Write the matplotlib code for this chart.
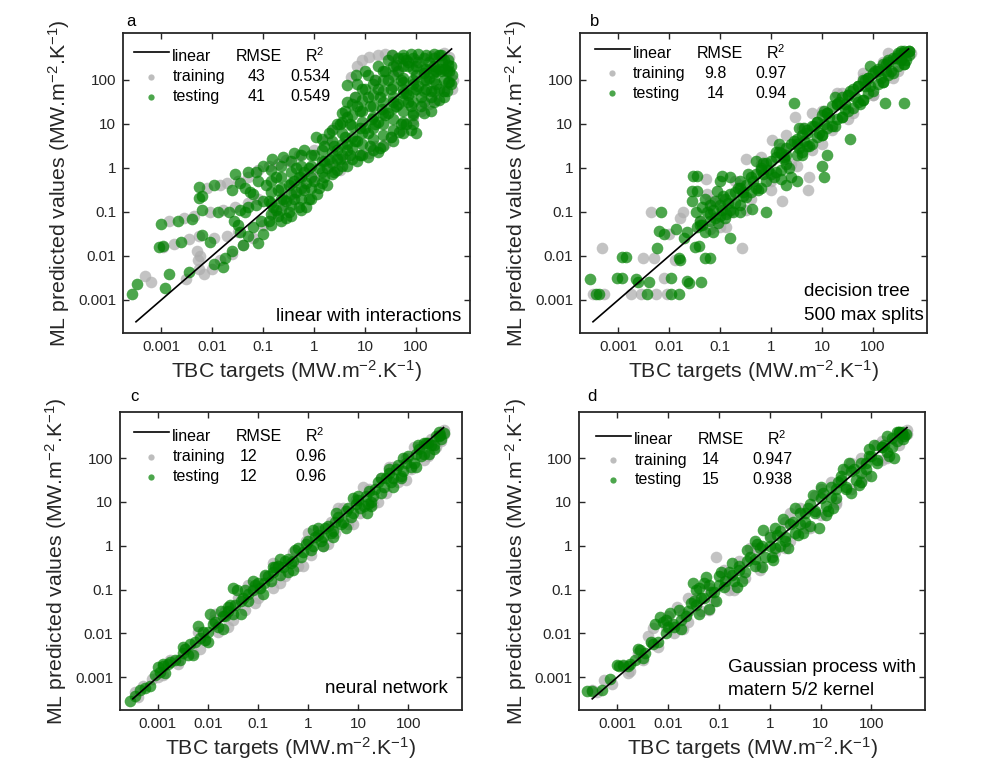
import matplotlib
matplotlib.use("Agg")
import matplotlib.pyplot as plt
from matplotlib.ticker import FixedLocator, FixedFormatter, NullLocator

plt.rcParams.update({
    "font.family": ["Liberation Sans", "DejaVu Sans"],
    "mathtext.fontset": "custom",
    "mathtext.rm": "Liberation Sans",
    "mathtext.it": "Liberation Sans:italic",
    "mathtext.default": "regular",
})

# ---- data: (TBC target, ML prediction) pairs ----
a_train = [
    (5.2, 115), (7.1, 200), (8.9, 280), (12, 330), (18, 370), (25, 380), (34, 360),
    (40, 250), (43, 175), (525, 100), (500, 63), (450, 320), (355, 400),
    (7.9e-3, 0.35), (1.4e-2, 0.4), (2e-2, 0.45), (3.2e-2, 0.5), (5e-2, 0.63),
    (7.9e-2, 0.89), (0.13, 1.1), (0.2, 1.25), (0.32, 1.4),
    (1.4e-3, 6.3e-2), (2.8e-3, 7.1e-2), (4.5e-3, 7.9e-2), (8.9e-3, 0.1),
    (1.6e-2, 0.11), (2.8e-2, 0.13), (5e-2, 0.16), (7.9e-2, 0.2),
    (1.1e-3, 1.6e-2), (1.8e-3, 1.9e-2), (3.5e-3, 2.4e-2), (5.6e-3, 2.8e-2),
    (1.1e-2, 2.5e-2), (2e-2, 2.8e-2), (3.2e-2, 3.5e-2),
    (5e-3, 1.3e-2), (5.2e-3, 7.9e-3), (5.6e-3, 5e-3),
    (4.9e-4, 3.5e-3), (6.3e-4, 2.5e-3), (3e-3, 3e-3), (5.9e-3, 1e-2), (6.9e-3, 3.9e-3),
    (1e-2, 5e-3), (1.4e-2, 7.9e-3), (2.5e-2, 1.1e-2), (4e-2, 1.8e-2), (6.3e-2, 2.5e-2),
    (0.1, 5e-2), (0.16, 8.9e-2), (0.25, 0.14), (0.4, 0.25), (0.63, 0.35), (1.0, 0.63),
    (2.0, 1.1), (4.0, 1.6), (7.9, 2.0), (16, 3.2), (32, 5.0), (63, 10), (126, 20),
    (250, 35), (1.0, 2.5), (0.5, 2.0), (2.5, 7.9), (6.3, 40), (16, 100), (40, 160),
    (100, 280), (200, 350), (12, 2.2), (25, 3.5), (50, 7.1), (89, 12), (178, 28),
    (355, 56), (450, 140), (3.2, 0.9), (0.28, 1.5), (1.8, 4.5),
]
a_test = [
    (2.7e-4, 1.35e-3), (3.4e-4, 2.3e-3), (1.4e-3, 3.9e-3), (1.2e-3, 1.9e-3),
    (3.5e-3, 4.3e-3), (1.1e-2, 6.6e-3), (1.6e-2, 5.6e-3), (1.8e-2, 8.9e-3), (2.5e-2, 1.3e-2),
    (5.5e-3, 0.36), (1.1e-2, 0.4), (6.3e-3, 0.23), (5.6e-3, 0.21), (2.8e-2, 0.71),
    (3.5e-2, 0.45), (5e-2, 0.79), (7.1e-2, 0.79), (4.5e-2, 0.35), (5.6e-2, 0.28),
    (2.5e-2, 0.32), (0.1, 1.1), (0.15, 1.6), (0.25, 1.8), (7.9e-2, 0.5),
    (9.8e-4, 5.2e-2), (2.1e-3, 6.3e-2), (4.1e-3, 6.8e-2), (6.3e-3, 0.11), (1.3e-2, 0.1),
    (2.1e-2, 0.1), (3.6e-2, 0.11), (5e-2, 0.13), (7.1e-2, 0.14), (0.1, 0.18),
    (8.9e-4, 1.6e-2), (1.1e-3, 1.7e-2), (2.5e-3, 2.1e-2), (6.3e-3, 3e-2), (8.9e-3, 2.1e-2),
    (2.7e-2, 6.3e-2), (3.5e-2, 3.5e-2), (5e-2, 2.8e-2), (6.3e-2, 4.5e-2), (7.9e-2, 2e-2),
    (0.1, 3.2e-2), (4e-2, 1.8e-2),
    (0.13, 6.3e-2), (0.16, 0.13), (0.2, 7.9e-2), (0.25, 0.2), (0.32, 0.1), (0.32, 0.4),
    (0.4, 0.2), (0.5, 0.63), (0.5, 0.13), (0.63, 0.32), (0.79, 1.0), (0.79, 0.2),
    (1.0, 0.5), (1.0, 2.0), (1.25, 1.0), (1.25, 0.35), (1.6, 3.2), (1.6, 0.63),
    (2.0, 1.6), (2.0, 6.3), (2.5, 0.79), (2.5, 3.2), (3.2, 10), (3.2, 1.6), (4.0, 5.0),
    (4.0, 20), (5.0, 2.0), (5.0, 10), (6.3, 40), (6.3, 4.0), (7.9, 20), (7.9, 2.0),
    (10, 7.9), (10, 63), (12.6, 3.2), (12.6, 25), (16, 100), (16, 10), (20, 2.8),
    (20, 40), (25, 160), (25, 16), (32, 5.0), (32, 63), (40, 220), (40, 25), (50, 10),
    (50, 100), (63, 280), (63, 50), (79, 7.1), (79, 25), (100, 126), (126, 40),
    (160, 100), (200, 56), (220, 140), (280, 63), (320, 250), (400, 160),
    (0.4, 2.2), (0.63, 2.5), (1.1, 5.0),
    (0.13, 0.18), (0.2, 0.32), (0.4, 0.5), (0.63, 0.79), (1.6, 1.4), (2.8, 2.5),
    (4.5, 3.5), (7.9, 7.9), (14, 12.6), (22, 22), (35, 32), (56, 50), (89, 79),
    (141, 141), (250, 160),
    (4.5, 76), (6.6, 126), (10, 160), (34, 360), (56, 355), (79, 380), (112, 380),
    (160, 355), (224, 380), (316, 355), (417, 280), (479, 200), (500, 126), (479, 79),
    (400, 56), (316, 160), (224, 200), (160, 178), (100, 200), (71, 200), (250, 79),
    (160, 63), (355, 100), (56, 89), (100, 63), (200, 40), (126, 25), (89, 16),
    (63, 10), (47, 6.5), (71, 32), (280, 35),
    # dense body of the cloud
    (0.141, 0.05), (0.141, 0.089), (0.141, 0.158), (0.141, 0.28), (0.141, 0.5), (0.141, 0.89),
    (0.224, 0.063), (0.224, 0.112), (0.224, 0.2), (0.224, 0.355), (0.224, 0.63), (0.224, 1.12),
    (0.355, 0.079), (0.355, 0.141), (0.355, 0.25), (0.355, 0.45), (0.355, 0.79), (0.355, 1.41),
    (0.56, 0.112), (0.56, 0.2), (0.56, 0.355), (0.56, 0.63), (0.56, 1.12), (0.56, 2.0),
    (0.89, 0.2), (0.89, 0.355), (0.89, 0.63), (0.89, 1.12), (0.89, 2.0),
    (1.41, 0.45), (1.41, 0.79), (1.41, 1.41), (1.41, 2.5), (1.41, 4.5),
    (2.24, 0.71), (2.24, 1.26), (2.24, 2.24), (2.24, 4.0), (2.24, 7.1),
    (3.55, 1.12), (3.55, 2.0), (3.55, 3.55), (3.55, 6.3), (3.55, 11.2), (3.55, 17.8),
    (5.6, 1.58), (5.6, 2.8), (5.6, 5.0), (5.6, 8.9), (5.6, 15.8), (5.6, 28),
    (8.9, 2.0), (8.9, 3.55), (8.9, 6.3), (8.9, 11.2), (8.9, 20), (8.9, 35.5), (8.9, 63),
    (14.1, 2.5), (14.1, 4.5), (14.1, 7.9), (14.1, 14.1), (14.1, 25), (14.1, 45), (14.1, 79),
    (22.4, 3.2), (22.4, 5.6), (22.4, 10), (22.4, 17.8), (22.4, 32), (22.4, 56), (22.4, 100),
    (22.4, 158), (35.5, 4.0), (35.5, 7.1), (35.5, 12.6), (35.5, 22.4), (35.5, 40),
    (35.5, 71), (35.5, 126), (35.5, 200), (56, 6.3), (56, 11.2), (56, 20), (56, 35.5),
    (56, 63), (56, 112), (56, 200), (56, 316), (89, 10), (89, 17.8), (89, 32), (89, 56),
    (89, 100), (89, 178), (89, 316), (141, 17.8), (141, 32), (141, 56), (141, 100),
    (141, 178), (141, 316), (224, 32), (224, 56), (224, 100), (224, 178), (224, 316),
    (355, 56), (355, 178), (355, 282), (420, 90), (420, 220),
    (3.2e-2, 5e-2), (4.5e-2, 0.1), (6.3e-2, 0.25), (8.9e-2, 6.3e-2), (0.112, 0.4),
    (0.178, 0.63), (0.28, 0.071), (0.45, 1.0), (0.71, 0.126), (1.12, 0.25), (1.78, 0.4),
    (2.8, 0.89), (4.5, 1.12), (7.1, 1.41), (11.2, 1.78), (17.8, 2.24), (2.8, 10),
    (4.5, 32), (7.1, 79), (11.2, 126), (17.8, 200), (28, 282), (45, 316), (282, 355),
    (447, 158), (447, 89), (100, 6.3), (200, 20), (355, 40),
    (1.78, 1.0), (2.8, 1.58), (4.5, 2.5), (7.1, 4.0), (11.2, 6.3), (17.8, 11.2),
    (28, 17.8), (45, 28), (71, 45), (112, 71), (178, 112), (282, 178), (0.71, 0.45),
    (0.45, 0.28), (0.28, 0.178), (0.178, 0.112), (4.5, 14.1), (7.1, 25), (11.2, 40),
    (17.8, 63), (28, 100), (45, 158), (71, 250), (112, 250), (178, 250),
]

b_train = [
    (4.9e-4, 1.55e-2), (3.2e-4, 1.4e-3), (5.2e-4, 1.4e-3), (4.4e-3, 9.8e-2),
    (3e-3, 9.1e-3), (5e-3, 9.1e-3), (1.8e-3, 1.4e-3), (2.8e-3, 1.4e-3), (5.6e-3, 1.4e-3),
    (8.9e-3, 1.4e-3), (1.9e-2, 9.8e-2), (1.6e-2, 7.1e-2), (5.4e-2, 0.55), (5.6e-2, 0.25),
    (0.27, 1.55e-2), (1.65, 0.18), (3.0, 14), (5.5, 0.62), (5.2, 0.31), (0.32, 1.6),
    (1.05, 4.3), (1e-2, 3.2e-2), (1.3e-2, 7.9e-3), (7.9e-3, 3.2e-3), (0.13, 4.5e-2),
    (4e-2, 6.3e-2), (6.3e-2, 4e-2), (0.1, 0.2), (0.16, 0.1), (0.25, 0.4), (0.4, 0.2),
    (0.63, 1.25), (1.0, 0.5), (1.6, 2.8), (2.5, 1.25), (4.0, 7.9), (6.3, 2.5),
    (10, 20), (16, 7.1), (25, 50), (40, 18), (63, 112), (100, 45), (160, 250),
    (250, 112), (400, 400), (560, 400),
    (0.1, 4.5e-2), (0.32, 0.112), (1, 0.32), (3.2, 1.12), (10, 3.5), (32, 12.6),
    (100, 45), (316, 158), (6.3e-2, 0.178), (0.2, 0.5), (0.63, 1.78), (2, 5.6),
    (6.3, 17.8), (20, 50), (63, 141), (200, 400),
]
b_test = [
    (2.8e-4, 3e-3), (3.7e-4, 1.4e-3), (4.2e-4, 1.4e-3), (9.5e-4, 3.1e-3), (1.2e-3, 3.1e-3),
    (1.2e-3, 9.5e-3), (1.4e-3, 9.5e-3), (2.2e-3, 3e-3), (2.5e-3, 2.5e-3), (4e-3, 2.5e-3),
    (3.7e-3, 1.4e-3), (1.1e-2, 3.1e-3), (1.1e-2, 1.4e-3), (1.55e-2, 1.4e-3),
    (2.2e-2, 2.7e-3), (2.5e-2, 2.4e-3), (4.2e-2, 2.5e-3), (6.8e-3, 9.8e-2),
    (6.3e-3, 3.7e-2), (5.9e-3, 1.55e-2), (7.9e-3, 3.2e-2), (1.35e-2, 4.1e-2),
    (1.55e-2, 9.1e-3), (2e-2, 2.5e-2), (3e-2, 0.66), (3.6e-2, 0.66), (2.8e-2, 0.3),
    (3.5e-2, 0.3), (2.8e-2, 0.18), (3.3e-2, 9.8e-2), (4e-2, 6.3e-2), (5.1e-2, 9.1e-3),
    (6.3e-2, 9.1e-3), (3.8e-2, 1.7e-2), (8.7e-2, 0.3), (0.11, 0.66), (0.16, 2.6e-2),
    (0.43, 0.115), (0.78, 9.8e-2), (2.8, 29), (174, 30), (400, 30), (36, 4.6),
    (10, 1.1), (11, 0.62), (12.6, 2.0), (3.2, 0.5), (2.0, 0.4), (0.25, 0.1),
    (7.1e-2, 3.5e-2), (0.1, 0.5), (0.16, 0.63), (5e-2, 0.2), (6.3e-2, 0.14),
    (4.5e-2, 0.13),
    (4.5e-2, 5e-2), (5.6e-2, 0.1), (7.9e-2, 7.1e-2), (0.1, 0.14), (0.13, 8.9e-2),
    (0.16, 0.25), (0.2, 0.16), (0.25, 0.35), (0.32, 0.22), (0.4, 0.63), (0.5, 0.35),
    (0.63, 0.89), (0.79, 0.5), (1.0, 1.4), (1.25, 0.79), (1.6, 2.2), (2.0, 1.25),
    (2.5, 3.5), (3.2, 2.0), (4.0, 5.6), (5.0, 3.2), (6.3, 8.9), (7.9, 5.0), (10, 16),
    (12.6, 7.9), (16, 25), (20, 12.6), (25, 40), (32, 20), (40, 63), (50, 32),
    (63, 100), (79, 50), (100, 141), (126, 79), (160, 224), (200, 126), (250, 316),
    (316, 200), (400, 400), (500, 447), (447, 282),
    (6.3e-2, 6.3e-2), (0.11, 0.11), (0.28, 0.28), (0.71, 0.71), (1.8, 1.8), (4.5, 4.0),
    (11, 10), (28, 28), (71, 71), (178, 158),
    (3.5e-2, 4.5e-2), (5e-2, 3.5e-2), (7.1e-2, 0.112), (8.9e-2, 5.6e-2), (0.112, 0.224),
    (0.141, 0.158), (0.178, 0.1), (0.224, 0.355), (0.28, 0.224), (0.355, 0.71),
    (0.45, 0.5), (0.56, 0.32), (0.71, 1.26), (0.89, 0.89), (1.12, 0.63), (1.41, 2.24),
    (1.78, 1.58), (2.24, 1.0), (2.8, 4.0), (3.55, 2.8), (4.5, 8.0), (5.6, 3.2),
    (7.1, 8.9), (8.9, 6.3), (11, 20), (14, 14), (18, 8.9), (22, 32), (28, 22), (35, 56),
    (45, 40), (56, 28), (71, 100), (89, 71), (112, 158), (141, 112), (178, 224),
    (224, 158), (282, 316), (355, 282), (400, 447), (500, 447), (355, 447),
    (3.2e-2, 1.6e-2), (1.6e-2, 7.9e-3), (2.2e-2, 3.5e-2),
    (4e-2, 5e-2), (6.3e-2, 8.9e-2), (0.1, 7.9e-2), (0.126, 0.2), (0.2, 0.28), (0.32, 0.4),
    (0.5, 0.71), (0.79, 1.26), (1.26, 1.78), (2.0, 2.8), (3.2, 4.5), (5.0, 7.1),
    (7.9, 11.2), (12.6, 17.8), (20, 28), (32, 45), (50, 71), (79, 112), (126, 178),
    (200, 282), (316, 400), (0.126, 0.071), (0.25, 0.141), (0.63, 0.355), (1.58, 0.89),
    (4.0, 2.24), (10, 5.6), (25, 14.1), (63, 35.5), (158, 89), (400, 224),
    (0.158, 0.112), (0.25, 0.5), (0.4, 0.28), (0.63, 1.0), (1.0, 0.71), (1.26, 2.24),
    (1.58, 0.56), (2.0, 2.0), (2.5, 0.63), (3.2, 3.55), (4.0, 2.0), (5.0, 6.3),
    (6.3, 3.55), (7.9, 11.2), (10, 5.6), (12.6, 17.8), (15.8, 8.9), (20, 28), (25, 14.1),
    (32, 45), (40, 22.4), (50, 71), (63, 35.5), (79, 112), (100, 56), (126, 158),
    (158, 89), (200, 251), (251, 141), (316, 355), (400, 224), (500, 355), (1.41, 3.55),
    (3.55, 7.9), (17.8, 40), (89, 200), (0.5, 1.41), (0.079, 0.178),
]

c_train = [
    (3.5e-4, 4.5e-4), (5e-4, 6.3e-4), (7.9e-4, 8.9e-4), (1.3e-3, 1.1e-3), (1.8e-3, 2.5e-3),
    (2.5e-3, 2e-3), (3.5e-3, 4.5e-3), (5e-3, 3.5e-3), (6.3e-3, 1.1e-2), (8.9e-3, 7.1e-3),
    (1.3e-2, 2e-2), (1.6e-2, 1.1e-2), (2.2e-2, 3.2e-2), (3.2e-2, 2e-2), (4e-2, 6.3e-2),
    (5.6e-2, 3.5e-2), (7.9e-2, 0.11), (0.1, 6.3e-2), (0.14, 0.2), (0.2, 0.11),
    (0.25, 0.35), (0.35, 0.2), (0.5, 0.71), (0.63, 0.35), (0.89, 1.26), (1.12, 0.63),
    (1.6, 2.2), (2, 1), (2.8, 3.5), (3.5, 2), (5, 7.1), (6.3, 3.2), (8.9, 11), (11, 5.6),
    (16, 20), (20, 8.9), (28, 35), (35, 16), (50, 63), (63, 28), (89, 100), (110, 56),
    (160, 180), (200, 89), (280, 280), (350, 180), (500, 350), (450, 250),
    (4e-4, 3.5e-4), (1e-3, 1e-3), (2.5e-3, 2.5e-3), (7.1e-3, 4.5e-3), (2.5e-2, 1.4e-2),
    (8.9e-2, 5e-2), (0.28, 0.14), (0.79, 0.35), (2.5, 1.1), (7.9, 3.2), (25, 10),
    (89, 32), (250, 112), (500, 450), (1.4e-2, 2.8e-2), (6.3e-2, 0.126), (0.2, 0.4),
    (1, 2), (4, 7.1), (12.6, 22), (40, 63), (126, 178),
]
c_test = [
    (2.8e-4, 2.8e-4), (3.5e-4, 3.8e-4), (1e-3, 1.7e-3), (1.1e-3, 1.3e-3), (1.3e-3, 1.8e-3),
    (1.6e-3, 2e-3), (2.2e-3, 2.5e-3), (3.2e-3, 3.5e-3), (4.5e-3, 5.6e-3), (6.3e-3, 1.5e-2),
    (7.1e-3, 7.9e-3), (1e-2, 1.1e-2), (1.1e-2, 2.8e-2), (1.4e-2, 1.8e-2), (2e-2, 2.5e-2),
    (2.5e-2, 3.2e-2), (3.2e-2, 0.11), (3.8e-2, 0.1), (3.5e-2, 4.5e-2), (5e-2, 6.3e-2),
    (6.3e-2, 7.9e-2), (7.9e-2, 0.1), (0.1, 0.14), (0.13, 0.14), (0.16, 0.2), (0.2, 0.25),
    (0.25, 0.35), (0.32, 0.32), (0.4, 0.5), (0.5, 0.45), (0.63, 0.89), (0.79, 0.71),
    (1, 1.26), (1.26, 1), (1.6, 1.8), (2, 1.6), (2.5, 2.8), (3.2, 2.2), (4, 4.5),
    (5, 3.5), (6.3, 7.1), (7.9, 5.6), (10, 11), (13, 7.9), (15, 5.5), (16, 18), (20, 14),
    (25, 28), (32, 22), (40, 45), (50, 35), (63, 71), (79, 50), (100, 110), (126, 79),
    (160, 160), (200, 126), (250, 220), (320, 200), (400, 320), (450, 280),
    (4.5e-4, 5e-4), (5.6e-4, 5.6e-4), (7.1e-4, 6.3e-4), (8.9e-4, 1.1e-3), (1.4e-3, 1.26e-3),
    (1.8e-3, 2.2e-3), (2.8e-3, 2.5e-3), (3.5e-3, 4.5e-3), (4e-3, 3.2e-3), (5.6e-3, 6.3e-3),
    (7.9e-3, 1.1e-2), (8.9e-3, 7.1e-3), (1.26e-2, 1.6e-2), (1.6e-2, 1.4e-2),
    (1.8e-2, 3.2e-2), (2.2e-2, 2.5e-2), (2.8e-2, 4.5e-2), (3.2e-2, 2.8e-2),
    (4.5e-2, 5.6e-2), (5.6e-2, 0.1), (6.3e-2, 5.6e-2), (8.9e-2, 0.126), (0.11, 0.11),
    (0.14, 0.22), (0.18, 0.16), (0.22, 0.32), (0.28, 0.22), (0.35, 0.45), (0.45, 0.4),
    (0.56, 0.79), (0.71, 0.56), (0.89, 1.12), (1.12, 0.79), (1.4, 1.6), (1.8, 1.26),
    (2.2, 2.5), (2.8, 2.0), (3.5, 3.5), (4.5, 3.2), (5.6, 6.3), (7.1, 4.5), (8.9, 8.9),
    (11, 7.1), (14, 14), (18, 10), (22, 20), (28, 16), (35, 35), (45, 28), (56, 56),
    (71, 40), (89, 79), (112, 63), (141, 126), (178, 112), (224, 224), (282, 200),
    (355, 316), (417, 330), (500, 380),
    (1.26e-3, 2e-3), (3.2e-3, 5e-3), (5e-3, 3.2e-3), (2e-2, 1.26e-2), (4.5e-2, 2.8e-2),
    (7.9e-2, 0.158), (0.126, 0.079), (0.28, 0.5), (0.5, 0.28), (1.26, 2.24), (2.0, 1.0),
    (3.55, 5.6), (5.6, 2.5), (10, 14), (17.8, 8), (28, 35), (50, 22), (79, 100),
    (141, 63), (200, 224), (316, 158), (400, 400),
    (0.2, 0.32), (0.4, 0.25), (1.58, 2.5), (3.2, 1.58), (7.9, 12.6), (15.8, 8.9),
    (40, 56), (71, 35.5), (158, 200), (251, 126), (2.5e-2, 4e-2), (1e-2, 6.3e-3),
]

d_train = [
    (3.2e-4, 5e-4), (5.4e-4, 8.7e-4), (7.9e-4, 7.1e-4), (1.3e-3, 1.8e-3), (1.8e-3, 1.4e-3),
    (2.5e-3, 3.5e-3), (3.2e-3, 2.5e-3), (5e-3, 1.3e-2), (4.5e-3, 6.3e-3), (6.3e-3, 5e-3),
    (8.9e-3, 1.4e-2), (1.5e-2, 4.1e-2), (1.3e-2, 1e-2), (2e-2, 2.8e-2), (2.5e-2, 1.8e-2),
    (3.5e-2, 6.3e-2), (4.5e-2, 3.2e-2), (8.9e-2, 0.56), (6.3e-2, 0.11), (7.9e-2, 5.6e-2),
    (0.13, 0.22), (0.16, 0.1), (0.25, 0.45), (0.32, 0.18), (0.5, 0.89), (0.63, 0.35),
    (1, 1.8), (1.26, 0.71), (2, 3.5), (2.5, 1.26), (4, 7.1), (5, 2.5), (7.9, 14),
    (10, 5), (16, 28), (20, 10), (32, 56), (40, 20), (63, 100), (79, 40), (126, 200),
    (160, 89), (280, 280), (350, 200), (500, 350),
    (4e-4, 4.5e-4), (1.6e-3, 1.26e-3), (4e-3, 8.9e-3), (1e-2, 2.5e-2), (2.5e-2, 6.3e-2),
    (2e-2, 1.26e-2), (6.3e-2, 3.5e-2), (0.2, 0.1), (0.63, 0.28), (2, 0.89), (6.3, 2.5),
    (20, 8.9), (63, 28), (200, 100), (0.126, 0.28), (0.4, 0.89), (2.5, 5.6), (10, 20),
    (40, 79), (158, 251), (500, 450),
]
d_test = [
    (2.5e-4, 4.8e-4), (3.2e-4, 4.8e-4), (9.8e-4, 1.9e-3), (1.3e-3, 1.9e-3), (1.6e-3, 1.8e-3),
    (2.2e-3, 2.5e-3), (2.8e-3, 4.2e-3), (3.5e-3, 3.5e-3), (5e-3, 5.6e-3), (6.9e-3, 2.4e-2),
    (7.9e-3, 1.8e-2), (1.1e-2, 2.9e-2), (8.9e-3, 1e-2), (1.3e-2, 1.4e-2), (1.8e-2, 2e-2),
    (2.5e-2, 3.2e-2), (3.1e-2, 0.14), (4e-2, 0.11), (5.6e-2, 0.19), (3.5e-2, 4.5e-2),
    (5e-2, 6.3e-2), (7.1e-2, 8.9e-2), (0.1, 0.13), (0.13, 0.16), (0.18, 0.22),
    (0.25, 0.28), (0.35, 0.45), (0.5, 0.5), (0.71, 1), (0.74, 2.3), (1, 1), (1.17, 0.47),
    (1.4, 1.8), (2, 1.6), (2.8, 3.5), (4, 3.2), (5.6, 7.1), (7.9, 6.3), (9.5, 2.5),
    (11, 16), (16, 13), (22, 28), (32, 22), (45, 56), (63, 45), (89, 110), (126, 89),
    (180, 200), (250, 180), (350, 400), (420, 280), (470, 360),
    (5e-4, 5e-4), (7.1e-4, 8.9e-4), (1.1e-3, 1.8e-3), (1.8e-3, 2e-3), (2.5e-3, 4.5e-3),
    (3.2e-3, 2.8e-3), (4.5e-3, 6.3e-3), (6.3e-3, 6.3e-3), (5.6e-3, 1.6e-2), (8.9e-3, 2e-2),
    (1.26e-2, 1.6e-2), (1.6e-2, 3.5e-2), (2.2e-2, 2.5e-2), (2.8e-2, 5e-2), (3.5e-2, 0.1),
    (4.5e-2, 6.3e-2), (5e-2, 0.14), (6.3e-2, 0.126), (7.9e-2, 8.9e-2), (0.1, 0.2),
    (0.126, 0.112), (0.16, 0.25), (0.2, 0.16), (0.25, 0.35), (0.32, 0.25), (0.4, 0.56),
    (0.5, 0.35), (0.63, 0.89), (0.79, 0.56), (1, 1.6), (1.26, 0.89), (1.6, 2.2), (2, 1.26),
    (2.5, 3.2), (3.2, 2), (4, 5.6), (5, 3.5), (6.3, 8.9), (7.9, 5.6), (10, 12.6),
    (12.6, 7.9), (16, 22), (20, 12.6), (25, 32), (32, 20), (40, 50), (50, 32), (63, 79),
    (79, 56), (100, 112), (126, 79), (158, 178), (200, 141), (250, 282), (316, 251),
    (400, 400), (447, 316), (316, 400),
    (1e-2, 1.41e-2), (1.78e-2, 1.26e-2), (4e-2, 2.8e-2), (8.9e-2, 5.6e-2), (0.178, 0.4),
    (0.28, 0.158), (0.56, 1.12), (1.12, 0.56), (1.78, 4.0), (3.55, 1.78), (7.1, 14.1),
    (14.1, 6.3), (28, 56), (56, 25), (112, 200), (224, 112), (355, 400), (20, 20),
    (79, 79), (5, 5.6),
    (3.2e-2, 5.6e-2), (6.3e-2, 3.55e-2), (0.112, 0.25), (0.224, 0.112), (0.355, 0.79),
    (0.71, 0.32), (1.26, 2.5), (2.24, 0.89), (3.2, 7.1), (6.3, 2.8), (10, 22.4),
    (17.8, 7.1), (35.5, 79), (40, 15.8), (89, 158), (100, 40), (200, 316), (282, 100),
    (400, 355), (1.58, 1.0), (0.5, 1.26), (4.5, 2.0), (12.6, 5.0), (25, 40), (63, 28),
    (158, 178),
]

panel_tags = ["a", "b", "c", "d"]
model_names = [["linear with interactions"], ["decision tree", "500 max splits"],
               ["neural network"], ["Gaussian process with", "matern 5/2 kernel"]]
rmse_train = ["43", "9.8", "12", "14"]
rmse_test = ["41", "14", "12", "15"]
r2_train = ["0.534", "0.97", "0.96", "0.947"]
r2_test = ["0.549", "0.94", "0.96", "0.938"]
fit_line = [3.2e-4, 500]
tick_vals = [1e-3, 1e-2, 1e-1, 1, 10, 100]
tick_text = ["0.001", "0.01", "0.1", "1", "10", "100"]

GREEN = (0.0, 0.5, 0.0)
GRAY = (0.68, 0.68, 0.68)
AXC = "#262626"
W, H = 997, 767

# axes boxes in pixels: left, top, right, bottom
boxes = [(123, 33, 470, 333), (580, 33, 927, 333),
         (120, 411.7, 461.7, 710), (579.3, 411.7, 925.3, 710)]
# legend layout in axes pixels: x of line start, y of first row
leg_x0 = [11.3, 15, 14.3, 17]
leg_y0 = [23.7, 20.3, 25, 28.3]
rmse_val_dx = [122.7, 120.5, 114.7, 114.5]
r2_val_dx = [175.7, 175.5, 176.2, 176]
# model text: (x px from axes left, alignment, y px above bottom for each line)
name_pos = [(338, "right", [16.5]), (224, "left", [41.3, 18]),
            (328.3, "right", [21.7]), (148.4, "left", [42.7, 19.3])]
tag_pos = [(126, 21.7), (590, 21.7), (130, 396.7), (587, 396.7)]

fig = plt.figure(figsize=(W / 100, H / 100), dpi=100, facecolor="white")
data = [(a_train, a_test), (b_train, b_test), (c_train, c_test), (d_train, d_test)]

for i, (train, test) in enumerate(data):
    l, t, r, b = boxes[i]
    aw, ah = r - l, b - t
    ax = fig.add_axes([l / W, 1 - b / H, aw / W, ah / H])
    ax.set_xscale("log")
    ax.set_yscale("log")

    tx, ty = zip(*train)
    ax.scatter(tx, ty, s=70, color=GRAY, alpha=0.72, linewidths=0, zorder=2)
    ex, ey = zip(*test)
    ax.scatter(ex, ey, s=70, color=GREEN, alpha=0.7, linewidths=0, zorder=3)
    ax.plot(fit_line, fit_line, color="black", lw=1.2, zorder=4)

    ax.set_xlim(1.78e-4, 1.15e3)
    ax.set_ylim(1.78e-4, 1.15e3)
    for axis in (ax.xaxis, ax.yaxis):
        axis.set_major_locator(FixedLocator(tick_vals))
        axis.set_major_formatter(FixedFormatter(tick_text))
        axis.set_minor_locator(NullLocator())
    ax.tick_params(direction="in", length=4.5, width=1.0, color=AXC, labelsize=11,
                   top=True, right=True, labelcolor="#262626")
    ax.tick_params(axis="x", pad=5)
    ax.tick_params(axis="y", pad=5)
    for sp in ax.spines.values():
        sp.set_color(AXC)
        sp.set_linewidth(1.3)

    ax.set_xlabel(r"TBC targets (MW.m$^{-2}$.K$^{-1}$)", fontsize=15.3, labelpad=3,
                  color="#262626")
    ax.set_ylabel(r"ML predicted values (MW.m$^{-2}$.K$^{-1}$)", fontsize=15.3,
                  labelpad=4, color="#262626")

    # legend block
    def ax_pt(px, py):
        return px / aw, 1 - py / ah
    x0, y0 = leg_x0[i], leg_y0[i]
    rows = [y0, y0 + 20, y0 + 40]
    ax.plot(*zip(ax_pt(x0, y0 - 4.3), ax_pt(x0 + 34.5, y0 - 4.3)), transform=ax.transAxes,
            color="black", lw=1.2, zorder=5)
    ax.plot(*ax_pt(x0 + 17, rows[1]), "o", ms=4.5, color=GRAY, alpha=0.8, mew=0,
            transform=ax.transAxes, zorder=5)
    ax.plot(*ax_pt(x0 + 17, rows[2]), "o", ms=4.5, color=GREEN, alpha=0.7, mew=0,
            transform=ax.transAxes, zorder=5)
    fs = 11.5
    for txt, yy in zip(["linear", "training", "testing"], rows):
        ax.text(*ax_pt(x0 + 38, yy), txt, fontsize=fs, ha="left", va="center",
                transform=ax.transAxes, zorder=5)
    ax.text(*ax_pt(x0 + 124.5, rows[0]), "RMSE", fontsize=fs, ha="center", va="center",
            transform=ax.transAxes, zorder=5)
    ax.text(*ax_pt(x0 + 180.5, rows[0] - 1), r"R$^2$", fontsize=fs, ha="center",
            va="center", transform=ax.transAxes, zorder=5)
    for txt, yy in zip([rmse_train[i], rmse_test[i]], rows[1:]):
        ax.text(*ax_pt(x0 + rmse_val_dx[i], yy), txt, fontsize=fs, ha="center",
                va="center", transform=ax.transAxes, zorder=5)
    for txt, yy in zip([r2_train[i], r2_test[i]], rows[1:]):
        ax.text(*ax_pt(x0 + r2_val_dx[i], yy), txt, fontsize=fs, ha="center",
                va="center", transform=ax.transAxes, zorder=5)

    # model name
    nx, ha, nys = name_pos[i]
    for txt, ny in zip(model_names[i], nys):
        ax.text(nx / aw, ny / ah, txt, fontsize=13.5, ha=ha, va="center",
                transform=ax.transAxes, zorder=5)

    fig.text(tag_pos[i][0] / W, 1 - tag_pos[i][1] / H, panel_tags[i], fontsize=12,
             ha="left", va="center")

fig.savefig("out.png", dpi=100, facecolor="white")
